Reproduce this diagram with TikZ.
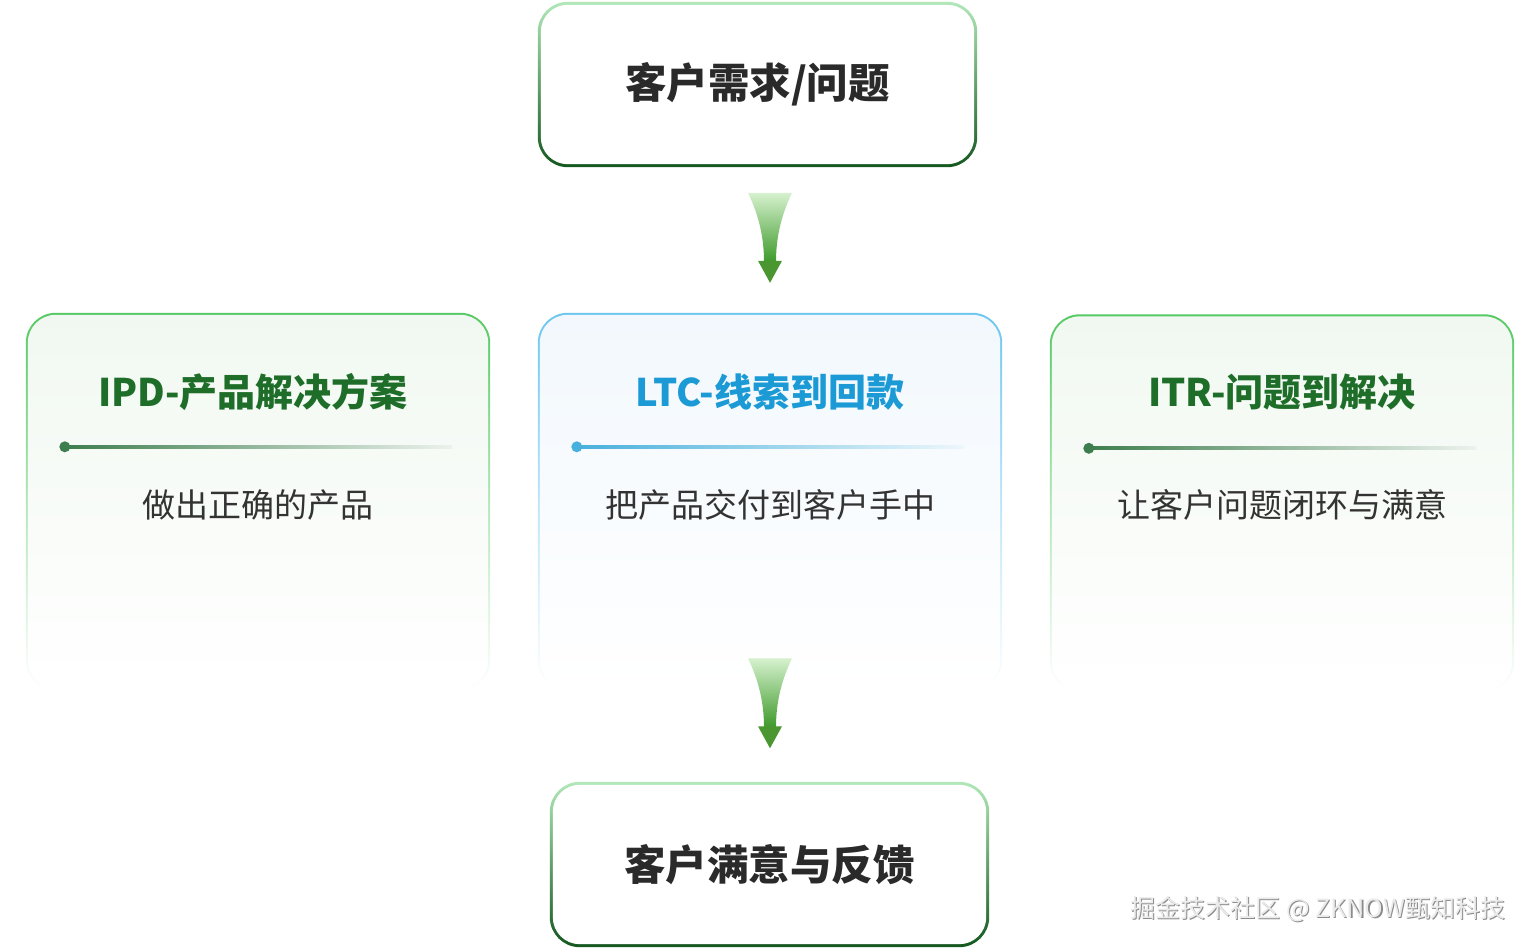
\documentclass[tikz,border=0pt]{standalone}
\usepackage{fontspec}
\setmainfont{Noto Sans CJK SC}
\usetikzlibrary{backgrounds,calc}
\definecolor{boxtop}{HTML}{B2E8B9}
\definecolor{boxbot}{HTML}{14581F}
\definecolor{cardg}{HTML}{55C963}
\definecolor{cardb}{HTML}{6CC6EF}
\definecolor{fillg}{HTML}{F1F8F1}
\definecolor{fillb}{HTML}{F2F8FD}
\definecolor{titg}{HTML}{1E6E2A}
\definecolor{titb}{HTML}{1B9AD5}
\definecolor{subc}{HTML}{333333}
\definecolor{maintxt}{HTML}{2A2A2A}
\definecolor{lineg}{HTML}{3E7E4E}
\definecolor{lineb}{HTML}{48B0DC}
\definecolor{arrlight}{HTML}{D6F1CE}
\definecolor{arrdark}{HTML}{3E9A2B}
\definecolor{arrhead}{HTML}{4A9630}
\tikzset{
  mainbox/.style={minimum width=439pt,minimum height=165pt,inner sep=0pt,
    font=\fontsize{41.5pt}{48pt}\selectfont\bfseries,text=maintxt},
  cardbox/.style={minimum width=464pt,minimum height=377pt,inner sep=0pt},
  cardtitle/.style={inner sep=0pt,font=\fontsize{38pt}{45pt}\selectfont\bfseries},
  cardsub/.style={inner sep=0pt,font=\fontsize{33pt}{40pt}\selectfont,text=subc},
  wmark/.style={inner sep=0pt,font=\fontsize{25pt}{29pt}\selectfont}
}
\begin{document}
\begin{tikzpicture}[x=1pt,y=1pt]
\useasboundingbox (0,0) rectangle (1532,-949);
% main boxes
\node[mainbox] (top) at (757.5,-84.5) {客户需求/问题};
\node[mainbox] (bot) at (769.5,-864.5) {客户满意与反馈};
% cards
\node[cardbox] (ipd) at (258,-501.5) {};
\node[cardbox] (ltc) at (770,-501.5) {};
\node[cardbox] (itr) at (1282,-503) {};
\node[cardtitle,text=titg] (ipdT) at (253,-392) {IPD-产品解决方案};
\node[cardtitle,text=titb] (ltcT) at (770,-392) {LTC-线索到回款};
\node[cardtitle,text=titg] (itrT) at (1282,-392) {ITR-问题到解决};
\node[cardsub] (ipdS) at (258,-505) {做出正确的产品};
\node[cardsub] (ltcS) at (770,-505) {把产品交付到客户手中};
\node[cardsub] (itrS) at (1282,-505) {让客户问题闭环与满意};
% watermark
\node[wmark,text=black!45] at (1319.2,-910.2) {掘金技术社区 @ ZKNOW甄知科技};
\node[wmark,text=black!8] (wm) at (1318,-909) {掘金技术社区 @ ZKNOW甄知科技};
\begin{pgfonlayer}{background}
  % main box borders
  \foreach \n in {top,bot}{
    \shade[rounded corners=30pt,top color=boxtop,bottom color=boxbot]
      (\n.north west) rectangle (\n.south east);
    \fill[white,rounded corners=27pt]
      ([shift={(3pt,-3pt)}]\n.north west) rectangle ([shift={(-3pt,3pt)}]\n.south east);
  }
  % cards
  \foreach \n/\c/\f in {ipd/cardg/fillg,ltc/cardb/fillb,itr/cardg/fillg}{
    \shade[rounded corners=30pt,top color=\c,bottom color=white,middle color=\c!45]
      (\n.north west) rectangle (\n.south east);
    \shade[rounded corners=28pt,top color=\f,bottom color=white]
      ([shift={(2pt,-2pt)}]\n.north west) rectangle ([shift={(-2pt,2pt)}]\n.south east);
  }
\end{pgfonlayer}
% dividers
\foreach \n/\c in {ipd/lineg,ltc/lineb,itr/lineg}{
  \coordinate (\n L) at ($(\n.north west)+(39,-134)$);
  \coordinate (\n R) at ($(\n.north east)+(-38,-134)$);
  \shade[left color=\c,right color=\c!10] ($(\n L)+(0,1.3)$) rectangle ($(\n R)+(0,-1.3)$);
  \fill[\c] (\n L) circle (5.5);
}
% arrows
\coordinate (a1) at ($(ltc.north)+(0,75)$);
\coordinate (a2) at ($(bot.north)+(0.5,78.5)$);
\foreach \a in {a1,a2}{
  \begin{scope}[shift={(\a)}]
    \shade[top color=arrlight,bottom color=arrdark]
      (-22,45) -- (22,45) .. controls (11,22) and (6,0) .. (6,-24)
      -- (-6,-24) .. controls (-6,0) and (-11,22) .. (-22,45) -- cycle;
    \fill[arrhead] (-12,-23) -- (12,-23) -- (0,-45) -- cycle;
  \end{scope}
}
\end{tikzpicture}
\end{document}
